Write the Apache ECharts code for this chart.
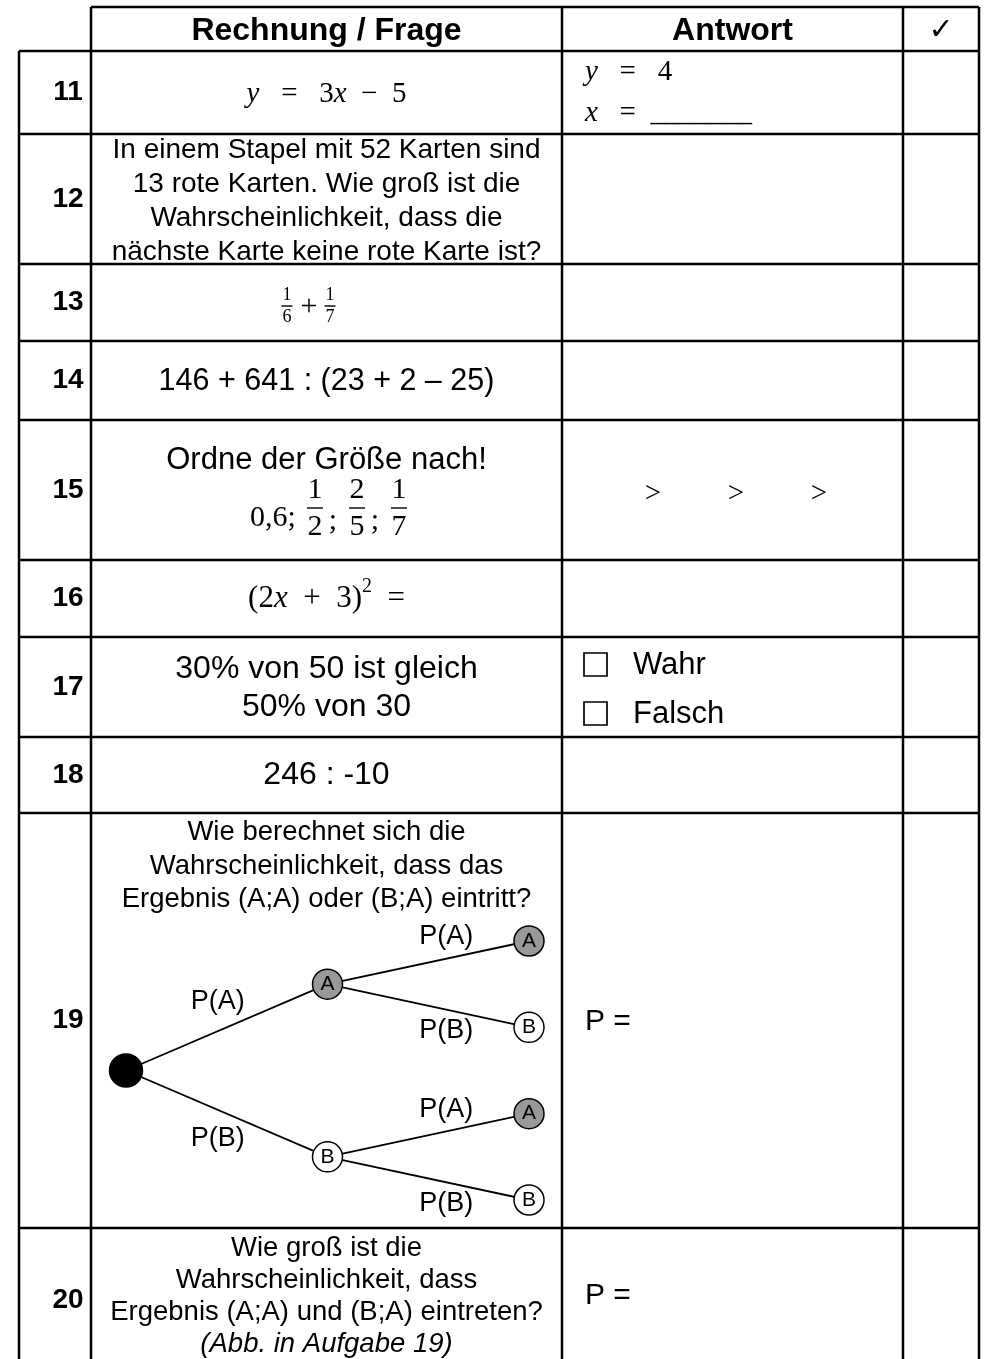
<!DOCTYPE html>
<html>
<head>
<meta charset="utf-8">
<title>Rechnung / Frage</title>
<script src="https://cdn.jsdelivr.net/npm/echarts@6/dist/echarts.min.js"></script>
<style>
html, body { margin: 0; padding: 0; background: #fff; }
#main { width: 986px; height: 1359px; }
</style>
</head>
<body>
<div id="main"></div>
<script>
// Inhalt der Tabelle
var headers = ['Rechnung / Frage', 'Antwort', '✓'];
var rowNumbers = ['11', '12', '13', '14', '15', '16', '17', '18', '19', '20'];
var q12 = ['In einem Stapel mit 52 Karten sind', '13 rote Karten. Wie groß ist die', 'Wahrscheinlichkeit, dass die', 'nächste Karte keine rote Karte ist?'];
var q14 = '146 + 641 : (23 + 2 – 25)';
var q15 = 'Ordne der Größe nach!';
var q15Lead = '0,6;';
var fracs13 = [[1, 6], [1, 7]];
var fracs15 = [[1, 2], [2, 5], [1, 7]];
var q17 = ['30% von 50 ist gleich', '50% von 30'];
var q18 = '246 : -10';
var q19 = ['Wie berechnet sich die', 'Wahrscheinlichkeit, dass das', 'Ergebnis (A;A) oder (B;A) eintritt?'];
var q20 = ['Wie groß ist die', 'Wahrscheinlichkeit, dass', 'Ergebnis (A;A) und (B;A) eintreten?', '(Abb. in Aufgabe 19)'];
var options17 = ['Wahr', 'Falsch'];

// Baumdiagramm (Aufgabe 19)
var treeLetters = ['', 'A', 'B', 'A', 'B', 'A', 'B'];
var treeLevel = [0, 1, 1, 2, 2, 2, 2];
var treeSlot = [1.5, 0.5, 2.5, 0, 1, 2, 3];
var treeLinks = [[0, 1], [0, 2], [1, 3], [1, 4], [2, 5], [2, 6]];
var edgeLabels = ['P(A)', 'P(B)', 'P(A)', 'P(B)', 'P(A)', 'P(B)'];

var SANS = '"Liberation Sans", Arial, Helvetica, sans-serif';
var SERIF = '"Liberation Serif", "Times New Roman", serif';

// Layout
var colX = [19, 91, 562, 903, 979];
var rowY = [7, 51, 134, 264, 341, 420, 560, 637, 737, 813, 1228, 1420];
var LW = 2.5;
var qx = (colX[1] + colX[2]) / 2;
var ax = colX[2] + 23;

var g = [];
function line(x1, y1, x2, y2, w) {
	g.push({ type: 'line', silent: true, shape: { x1: x1, y1: y1, x2: x2, y2: y2 }, style: { stroke: '#000', lineWidth: w || LW } });
}
function text(x, y, s, size, opt) {
	opt = opt || {};
	var al = opt.align || 'center';
	g.push({
		type: 'text', x: x, y: y, silent: true,
		style: {
			text: s, fill: '#000', fontSize: size,
			fontFamily: opt.family || SANS,
			fontWeight: opt.weight || 'normal',
			fontStyle: opt.style || 'normal',
			align: al, textAlign: al,
			verticalAlign: 'middle', textVerticalAlign: 'middle',
			lineHeight: opt.lh || Math.round(size * 1.2),
			rich: opt.rich
		}
	});
}
function frac(cx, cy, f, size, barW) {
	text(cx, cy - size * 0.6, String(f[0]), size, { family: SERIF });
	text(cx, cy + size * 0.64, String(f[1]), size, { family: SERIF });
	line(cx - barW / 2, cy, cx + barW / 2, cy, 1.4);
}
function rowMid(i) { return (rowY[i + 1] + rowY[i + 2]) / 2; }
function ital(size) { return { i: { fontStyle: 'italic', fontFamily: SERIF, fontSize: size } }; }

// Rahmen
line(colX[1], rowY[0], colX[4], rowY[0]);
for (var r = 1; r < rowY.length - 1; r++) line(colX[0], rowY[r], colX[4], rowY[r]);
line(colX[0], rowY[1], colX[0], 1359);
for (var c = 1; c < colX.length; c++) line(colX[c], rowY[0], colX[c], 1359);

// Kopfzeile
var hy = 31;
text(qx, hy, headers[0], 32, { weight: 'bold' });
text((colX[2] + colX[3]) / 2, hy, headers[1], 32, { weight: 'bold' });
text((colX[3] + colX[4]) / 2, hy, headers[2], 30, { family: '"DejaVu Sans", sans-serif', weight: 'bold' });

// Nummern
rowNumbers.forEach(function (n, i) {
	var y = i === 9 ? 1300 : rowMid(i);
	text(68, y, n, 28, { weight: 'bold' });
});

// 11
text(qx, 94, '{i|y}   =   3{i|x}  −  5', 29, { family: SERIF, rich: ital(29) });
text(ax, 72, '{i|y}   =   4', 29, { family: SERIF, align: 'left', rich: ital(29) });
text(ax, 113, '{i|x}   =  _______', 29, { family: SERIF, align: 'left', rich: ital(29) });
// 12
text(qx, 201, q12.join('\n'), 28, { lh: 34 });
// 13
frac(287, 306, fracs13[0], 18, 11);
text(309, 307, '+', 30, { family: SERIF });
frac(330, 306, fracs13[1], 18, 11);
// 14
text(qx, 382, q14, 30.5);
// 15
text(qx, 460, q15, 31);
text(273, 518, q15Lead, 30, { family: SERIF });
fracs15.forEach(function (f, i) {
	var fx = 315 + i * 42;
	frac(fx, 508, f, 30, 16);
	if (i < fracs15.length - 1) text(fx + 18, 521, ';', 30, { family: SERIF });
});
['>', '>', '>'].forEach(function (s, i) {
	text(653 + i * 83, 494, s, 29, { family: SERIF });
});
// 16
text(qx, rowMid(5), '(2{i|x}  +  3){s|2}  =', 31, {
	family: SERIF,
	rich: { i: { fontStyle: 'italic', fontFamily: SERIF, fontSize: 31 }, s: { fontFamily: SERIF, fontSize: 20, verticalAlign: 'top', lineHeight: 44 } }
});
// 17
text(qx, 688, q17.join('\n'), 32, { lh: 38 });
options17.forEach(function (o, i) {
	var y = 665 + i * 49;
	g.push({ type: 'rect', silent: true, shape: { x: 584, y: y - 12, width: 23, height: 23 }, style: { fill: 'none', stroke: '#000', lineWidth: 1.7 } });
	text(633, y, o, 31, { align: 'left' });
});
// 18
text(qx, 775, q18, 32);
// 19
text(qx, 866, q19.join('\n'), 27.5, { lh: 33.5 });
text(ax, 1022, 'P =', 30, { align: 'left' });
// 20
text(qx, 1280, q20.slice(0, 3).join('\n'), 27.5, { lh: 32 });
text(qx, 1344, q20[3], 27.5, { style: 'italic' });
text(ax, 1296, 'P =', 30, { align: 'left' });

// Baum: Knoten und Kanten
var nodes = treeLetters.map(function (l, i) {
	return {
		name: 'n' + i,
		value: [treeLevel[i], treeSlot[i]],
		symbolSize: i === 0 ? 33 : 30,
		itemStyle: { color: i === 0 ? '#000' : (l === 'A' ? '#999999' : '#ffffff'), borderColor: '#000', borderWidth: 1.5, opacity: 1 },
		label: { show: i > 0 }
	};
});
var links = treeLinks.map(function (l) { return { source: l[0], target: l[1] }; });
var edgePts = treeLinks.map(function (l, i) {
	var up = treeSlot[l[1]] < treeSlot[l[0]];
	var dx = treeLevel[l[0]] === 0 ? -9 : 18;
	return {
		value: [(treeLevel[l[0]] + treeLevel[l[1]]) / 2, (treeSlot[l[0]] + treeSlot[l[1]]) / 2],
		label: { offset: [dx, up ? -26 : 25] }
	};
});

var option = {
	animation: false,
	backgroundColor: '#fff',
	graphic: { elements: g },
	grid: { left: 126, top: 941, width: 403, height: 259, show: false },
	xAxis: { type: 'value', min: 0, max: 2, show: false },
	yAxis: { type: 'value', min: 0, max: 3, inverse: true, show: false },
	series: [
		{
			type: 'graph',
			coordinateSystem: 'cartesian2d',
			layout: 'none',
			data: nodes,
			links: links,
			edgeSymbol: ['none', 'none'],
			lineStyle: { color: '#000', width: 1.8, opacity: 1, curveness: 0 },
			label: {
				position: 'inside', color: '#000', opacity: 1, fontSize: 21, fontFamily: SANS,
				formatter: function (p) { return treeLetters[p.dataIndex]; }
			},
			emphasis: { disabled: true },
			z: 3
		},
		{
			type: 'scatter',
			symbolSize: 0,
			data: edgePts,
			itemStyle: { opacity: 1 },
			label: {
				show: true, position: 'inside', color: '#000', opacity: 1, fontSize: 27, fontFamily: SANS,
				formatter: function (p) { return edgeLabels[p.dataIndex]; }
			},
			emphasis: { disabled: true },
			z: 2
		}
	]
};
var chart = echarts.init(document.getElementById('main'));
chart.setOption(option);
</script>
</body>
</html>
